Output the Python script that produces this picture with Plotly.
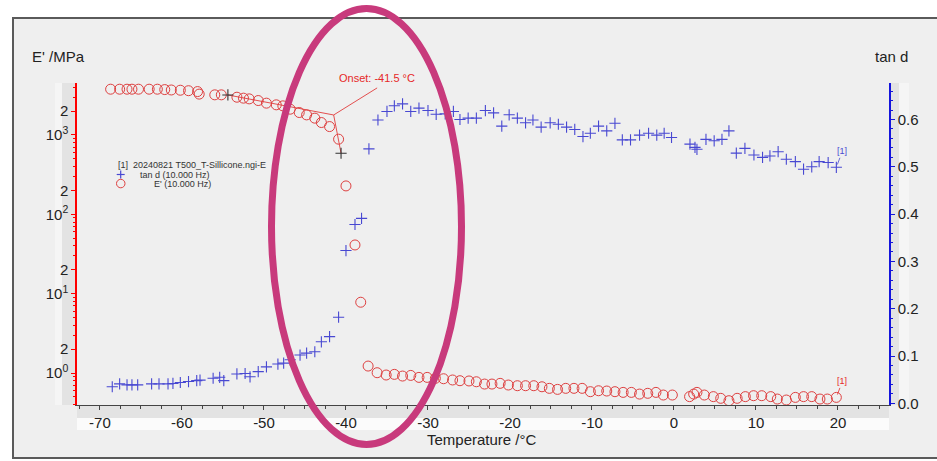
import plotly.graph_objects as go

# ---------------- data ----------------
temp_E = [-68.7, -67.6, -66.7, -66.1, -65.3, -64.0, -63.0, -62.1, -61.3, -60.2,
          -59.2, -58.1, -57.9, -56.0, -55.2, -53.3, -52.5, -51.8, -50.7, -49.7,
          -48.5, -47.7, -46.8, -45.7, -44.8, -43.8, -43.0, -42.0, -40.9, -40.0,
          -38.9, -38.2, -37.3, -36.2, -35.1, -34.1, -33.1, -32.1, -31.1, -30.1,
          -29.1, -28.1, -27.0, -26.1, -25.0, -24.1, -23.1, -22.2, -21.2, -20.2,
          -19.1, -18.1, -17.1, -16.1, -15.2, -14.2, -13.2, -12.2, -11.2, -10.2,
          -9.2, -8.2, -7.2, -6.2, -5.2, -4.2, -3.2, -2.2, -1.3, -0.2,
          1.9, 2.4, 2.8, 3.7, 4.8, 5.7, 6.7, 7.7, 8.7, 9.7,
          10.7, 11.8, 12.6, 13.7, 14.8, 15.8, 16.8, 17.8, 18.7, 19.8]
E_MPa = [3776, 3776, 3776, 3776, 3776, 3776, 3776, 3733, 3690, 3664,
         3614, 3524, 3273, 3206, 3206, 2992, 2911, 2851, 2716, 2518,
         2399, 2328, 2113, 1919, 1791, 1629, 1435, 1276, 885, 228,
         41.1, 7.80, 1.224, 1.009, 0.944, 0.962, 0.916, 0.933, 0.881, 0.881,
         0.857, 0.847, 0.817, 0.800, 0.794, 0.776, 0.726, 0.726, 0.741, 0.706,
         0.692, 0.692, 0.692, 0.671, 0.641, 0.622, 0.641, 0.641, 0.641, 0.582,
         0.598, 0.593, 0.582, 0.570, 0.570, 0.543, 0.555, 0.570, 0.528, 0.528,
         0.504, 0.543, 0.570, 0.528, 0.504, 0.480, 0.448, 0.480, 0.504, 0.518,
         0.518, 0.504, 0.470, 0.457, 0.493, 0.504, 0.504, 0.470, 0.470, 0.493]

temp_tan = [-68.5, -67.6, -66.7, -66.1, -65.4, -63.7, -62.8, -61.7, -61.1, -60.2,
            -59.2, -58.2, -57.8, -56.2, -55.4, -54.9, -53.3, -52.3, -51.7, -50.7,
            -49.7, -48.3, -47.6, -46.8, -45.6, -44.8, -43.8, -43.0, -42.0, -40.9,
            -40.0, -38.9, -38.1, -37.2, -36.1, -35.0, -34.1, -33.1, -32.1, -31.1,
            -30.0, -29.0, -27.9, -26.9, -26.1, -25.1, -24.1, -23.0, -22.0, -21.0,
            -20.1, -19.1, -18.1, -17.2, -16.2, -15.1, -14.1, -13.1, -12.1, -11.1,
            -10.2, -9.2, -8.2, -7.2, -6.3, -5.3, -4.2, -3.1, -2.1, -1.2,
            -0.3, 1.95, 2.56, 2.8, 3.9, 4.9, 5.85, 6.7, 7.6, 8.65,
            9.75, 10.8, 11.7, 12.7, 13.7, 14.8, 15.8, 16.8, 17.7, 18.8, 19.8]
tan_d = [0.035, 0.041, 0.039, 0.039, 0.039, 0.041, 0.041, 0.041, 0.042, 0.044,
         0.046, 0.048, 0.049, 0.053, 0.055, 0.048, 0.062, 0.063, 0.056, 0.067,
         0.077, 0.083, 0.085, 0.092, 0.102, 0.106, 0.109, 0.130, 0.141, 0.182,
         0.323, 0.378, 0.391, 0.538, 0.599, 0.617, 0.629, 0.633, 0.617, 0.624,
         0.619, 0.611, 0.612, 0.617, 0.600, 0.603, 0.603, 0.619, 0.614, 0.586,
         0.610, 0.603, 0.593, 0.599, 0.584, 0.593, 0.590, 0.584, 0.579, 0.564,
         0.571, 0.586, 0.576, 0.592, 0.557, 0.557, 0.567, 0.571, 0.567, 0.571,
         0.562, 0.548, 0.541, 0.537, 0.558, 0.555, 0.558, 0.576, 0.529, 0.539,
         0.525, 0.520, 0.523, 0.532, 0.516, 0.511, 0.495, 0.500, 0.511, 0.509, 0.499]

# onset construction: tangent start, intersection (onset), tangent end
onset_T = [-54.4, -41.5, -40.6]
onset_E = [3193, 1787, 588]
onset_label_T = [-41.5, -36.2]
onset_label_E = [1787, 3917]
onset_text = "Onset: -41.5 °C"

legend_title = "[1]  20240821 T500_T-Sillicone.ngi-E"
legend_labels = ["tan d (10.000 Hz)", "E' (10.000 Hz)"]

E_ticks = [1, 2, 10, 20, 100, 200, 1000, 2000]
E_ticktext = ["10<sup>0</sup>", "2", "10<sup>1</sup>", "2",
              "10<sup>2</sup>", "2", "10<sup>3</sup>", "2"]
E_minor = [m * 10 ** d for d in range(-1, 4) for m in range(3, 10)] + [0.5]
tan_ticks = [0.0, 0.1, 0.2, 0.3, 0.4, 0.5, 0.6]
tan_ticktext = ["0.0", "0.1", "0.2", "0.3", "0.4", "0.5", "0.6"]
temp_ticks = [-70, -60, -50, -40, -30, -20, -10, 0, 10, 20]
temp_ticktext = ["-70", "-60", "-50", "-40", "-30", "-20", "-10", "0", "10", "20"]

assert len(temp_E) == len(E_MPa)
assert len(temp_tan) == len(tan_d)

# ---------------- layout geometry (pixels) ----------------
W, H = 937, 461
PL, PR, PT, PB = 77, 889, 83, 405
pw, ph = PR - PL, PB - PT


def px(x):
    return (x - PL) / pw


def py(y):
    return (PB - y) / ph


FONT = "Arial, Liberation Sans, sans-serif"
RED = "rgb(222,64,64)"
RED_TXT = "rgb(230,40,40)"
BLUE = "rgb(72,72,210)"
TXT = "#222"

fig = go.Figure()

fig.add_trace(go.Scatter(
    x=temp_tan, y=tan_d, yaxis="y2", mode="markers", name=legend_labels[0],
    marker=dict(symbol="cross-thin", size=8, line=dict(color=BLUE, width=1.1), color=BLUE)))

fig.add_trace(go.Scatter(
    x=temp_E, y=E_MPa, mode="markers", name=legend_labels[1],
    marker=dict(symbol="circle-open", size=10, color=RED, line=dict(color=RED, width=1))))

# onset construction lines
fig.add_trace(go.Scatter(x=onset_T, y=onset_E, mode="lines", showlegend=False,
                         line=dict(color="rgb(225,60,60)", width=0.9), hoverinfo="skip"))
fig.add_trace(go.Scatter(x=onset_label_T, y=onset_label_E, mode="lines", showlegend=False,
                         line=dict(color="rgb(225,60,60)", width=0.9), hoverinfo="skip"))
fig.add_trace(go.Scatter(x=[onset_T[0], onset_T[2]], y=[onset_E[0], onset_E[2]], mode="markers",
                         showlegend=False,
                         marker=dict(symbol="cross-thin", size=8, line=dict(color="#333", width=1.1))))

fx0, fx1, fy0, fy1 = px(13), px(W), py(458), py(18)
shapes = [
    # outer frame fill + three visible edges (right edge runs off the picture)
    dict(type="rect", xref="paper", yref="paper", x0=fx0, x1=fx1, y0=fy0, y1=fy1,
         line=dict(width=0), fillcolor="#efefef", layer="below"),
    dict(type="path", xref="paper", yref="paper",
         path=f"M {fx1},{fy1} L {fx0},{fy1} L {fx0},{fy0} L {fx1},{fy0}",
         line=dict(color="#5a5a5a", width=2), layer="below"),
    # left tick-label band
    dict(type="rect", xref="paper", yref="paper", x0=px(55), x1=px(62), y0=0, y1=1,
         line=dict(width=0), fillcolor="#f5f5f5", layer="below"),
    dict(type="rect", xref="paper", yref="paper", x0=px(62), x1=px(76), y0=0, y1=1,
         line=dict(width=0), fillcolor="#e3e3e3", layer="below"),
    # right tick-label band
    dict(type="rect", xref="paper", yref="paper", x0=px(890), x1=px(899), y0=0, y1=1,
         line=dict(width=0), fillcolor="#e3e3e3", layer="below"),
    dict(type="rect", xref="paper", yref="paper", x0=px(899), x1=px(909), y0=0, y1=1,
         line=dict(width=0), fillcolor="#f5f5f5", layer="below"),
    # bottom bands
    dict(type="rect", xref="paper", yref="paper", x0=0, x1=1, y0=py(418), y1=py(406),
         line=dict(width=0), fillcolor="#e3e3e3", layer="below"),
    dict(type="rect", xref="paper", yref="paper", x0=0, x1=1, y0=py(430), y1=py(418),
         line=dict(width=0), fillcolor="#fbfbfb", layer="below"),
    # legend keys
    dict(type="line", xref="paper", yref="paper", x0=px(116.7), x1=px(124.7),
         y0=py(174.5), y1=py(174.5), line=dict(color=BLUE, width=1.2)),
    dict(type="line", xref="paper", yref="paper", x0=px(120.7), x1=px(120.7),
         y0=py(170.5), y1=py(178.5), line=dict(color=BLUE, width=1.2)),
    dict(type="circle", xref="paper", yref="paper", x0=px(116.5), x1=px(125.0),
         y0=py(187.8), y1=py(179.3), line=dict(color=RED, width=1)),
    # highlight ellipse
    dict(type="circle", xref="paper", yref="paper", x0=px(271.5), x1=px(461.5),
         y0=py(444.5), y1=py(8.5), line=dict(color="#c83a7c", width=7), layer="above"),
]

annotations = [
    dict(text="E' /MPa", xref="paper", yref="paper", x=px(30), y=py(57), xanchor="left",
         yanchor="middle", showarrow=False, font=dict(family=FONT, size=15, color=TXT)),
    dict(text="tan d", xref="paper", yref="paper", x=px(891), y=py(57), xanchor="center",
         yanchor="middle", showarrow=False, font=dict(family=FONT, size=15, color=TXT)),
    dict(text="Temperature /°C", xref="paper", yref="paper", x=px(482), y=py(439),
         xanchor="center", yanchor="middle", showarrow=False,
         font=dict(family=FONT, size=15, color=TXT)),
    dict(text=onset_text, x=onset_label_T[1], y=3.62, xanchor="center", yanchor="bottom",
         showarrow=False, font=dict(family=FONT, size=11, color=RED_TXT)),
    dict(text="[1]", x=temp_tan[-1], y=tan_d[-1], yref="y2", ax=6, ay=-16, showarrow=True,
         arrowhead=0, arrowwidth=0.8, arrowcolor=BLUE, standoff=3,
         font=dict(family=FONT, size=9, color=BLUE)),
    dict(text="[1]", x=temp_E[-1], y=-0.307, ax=6, ay=-16, showarrow=True,
         arrowhead=0, arrowwidth=0.8, arrowcolor=RED_TXT, standoff=3,
         font=dict(family=FONT, size=9, color=RED_TXT)),
    # legend texts
    dict(text=legend_title, xref="paper", yref="paper", x=px(116), y=py(164.5),
         xanchor="left", yanchor="middle", showarrow=False,
         font=dict(family=FONT, size=9, color="#333")),
    dict(text=legend_labels[0], xref="paper", yref="paper", x=px(138), y=py(174.5),
         xanchor="left", yanchor="middle", showarrow=False,
         font=dict(family=FONT, size=9, color="#333")),
    dict(text=legend_labels[1], xref="paper", yref="paper", x=px(151.5), y=py(184),
         xanchor="left", yanchor="middle", showarrow=False,
         font=dict(family=FONT, size=9, color="#333")),
]

fig.update_layout(
    width=W, height=H,
    margin=dict(l=PL, r=W - PR, t=PT, b=H - PB, pad=0),
    paper_bgcolor="white", plot_bgcolor="#efefef",
    font=dict(family=FONT, size=15, color=TXT),
    showlegend=False,
    xaxis=dict(range=[-72.8, 26.22], tickmode="array", tickvals=temp_ticks,
               ticktext=temp_ticktext,
               showgrid=False, zeroline=False, showline=True, linecolor="#444", linewidth=1,
               ticks="outside", ticklen=4, tickcolor="#444",
               minor=dict(ticks="outside", ticklen=3, dtick=2.5, tickcolor="#444", showgrid=False),
               tickfont=dict(family=FONT, size=15, color=TXT)),
    yaxis=dict(type="log", range=[-0.403, 3.655], tickmode="array", tickvals=E_ticks,
               ticktext=E_ticktext, showgrid=False, zeroline=False, showline=True,
               linecolor="red", linewidth=1.5, ticks="outside", ticklen=4, tickcolor="red",
               minor=dict(tickmode="array", tickvals=E_minor, ticks="outside", ticklen=2,
                          tickcolor="red", showgrid=False),
               tickfont=dict(family=FONT, size=15, color=TXT)),
    yaxis2=dict(overlaying="y", side="right", range=[-0.0036, 0.6772], tickmode="array",
                tickvals=tan_ticks, ticktext=tan_ticktext, showgrid=False, zeroline=False,
                showline=True, linecolor="rgb(20,20,220)", linewidth=1.5, ticks="outside",
                ticklen=4, tickcolor="rgb(20,20,220)",
                minor=dict(ticks="outside", ticklen=2, dtick=0.02, tickcolor="rgb(20,20,220)",
                           showgrid=False),
                tickfont=dict(family=FONT, size=15, color=TXT)),
    shapes=shapes,
    annotations=annotations,
)

fig.write_html("out.html", config={"displayModeBar": False},
               post_script=("document.documentElement.style.overflow='hidden';"
                            "document.body.style.margin='0px';"
                            "document.body.style.overflow='hidden';"))
